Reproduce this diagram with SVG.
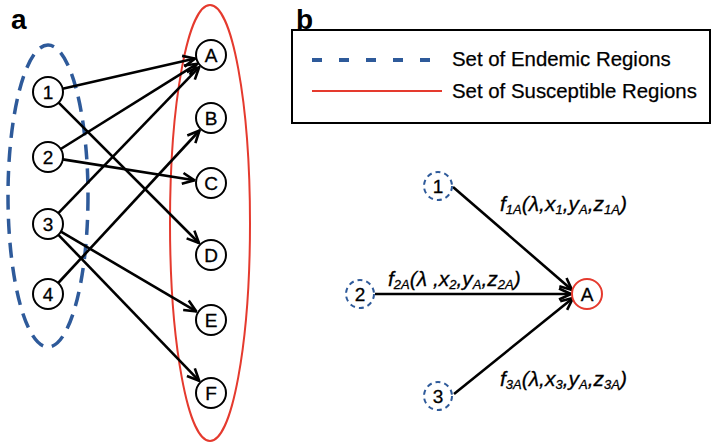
<svg xmlns="http://www.w3.org/2000/svg" width="712" height="444" viewBox="0 0 712 444">
<defs>
<marker id="arr" viewBox="0 0 14 14" refX="13" refY="7" markerWidth="14" markerHeight="14" markerUnits="userSpaceOnUse" orient="auto">
<path d="M1,1.5 L13,7 L1,12.5" fill="none" stroke="#000" stroke-width="2.6" stroke-linejoin="miter"/>
</marker>
<style>
.node{fill:#fff;stroke:#000;stroke-width:2}
.lbl{font-family:"Liberation Sans",Arial,sans-serif;font-size:19px;text-anchor:middle;fill:#000;stroke:#000;stroke-width:0.3}
.edge{stroke:#000;stroke-width:2.6;fill:none;marker-end:url(#arr)}
.bnode{fill:#fff;stroke:#2e5a9a;stroke-width:2;stroke-dasharray:5 4}
.fx{font-family:"Liberation Sans",Arial,sans-serif;font-style:italic;font-size:21px;fill:#000;stroke:#000;stroke-width:0.3}
.sub{font-size:13px}
.leg{font-family:"Liberation Sans",Arial,sans-serif;font-size:20.4px;fill:#000;stroke:#000;stroke-width:0.25}
.panel{font-family:"Liberation Sans",Arial,sans-serif;font-weight:bold;font-size:28px;fill:#000}
</style>
</defs>
<rect width="712" height="444" fill="#fff"/>
<text class="panel" x="11" y="29">a</text>
<text class="panel" x="296" y="29">b</text>
<g id="sets">
<ellipse cx="48" cy="196" rx="40" ry="151" fill="none" stroke="#2e5a9a" stroke-width="3.5" stroke-dasharray="15 9"/>
<ellipse cx="210" cy="223" rx="40" ry="218" fill="none" stroke="#e53a2e" stroke-width="2"/>
</g>
<g id="legend">
<rect x="292" y="30" width="418" height="93" fill="#fff" stroke="#000" stroke-width="2"/>
<line x1="312" y1="60" x2="440" y2="60" stroke="#2e5a9a" stroke-width="4" stroke-dasharray="10 17"/>
<line x1="312" y1="91" x2="442" y2="91" stroke="#e53a2e" stroke-width="2"/>
<text class="leg" x="452" y="66">Set of Endemic Regions</text>
<text class="leg" x="452" y="98">Set of Susceptible Regions</text>
</g>
<g id="connectors">
<line class="edge" x1="62.6" y1="88.7" x2="195" y2="58.6"/>
<line class="edge" x1="58.6" y1="102.6" x2="199" y2="243"/>
<line class="edge" x1="60.7" y1="149" x2="197" y2="63.8"/>
<line class="edge" x1="62.8" y1="159.4" x2="194.5" y2="180.3"/>
<line class="edge" x1="58.4" y1="213.2" x2="199.2" y2="67.2"/>
<line class="edge" x1="60.9" y1="231.6" x2="196.3" y2="311.4"/>
<line class="edge" x1="58.4" y1="234.8" x2="199.2" y2="380.8"/>
<line class="edge" x1="58.2" y1="283" x2="199.5" y2="130.5"/>
<line class="edge" x1="453" y1="187" x2="572" y2="290"/>
<line class="edge" x1="375" y1="294" x2="571" y2="294"/>
<line class="edge" x1="454" y1="394" x2="573" y2="298"/>
</g>
<g id="n1"><circle class="node" cx="48" cy="92" r="15"/><text class="lbl" x="48" y="99">1</text></g>
<g id="n2"><circle class="node" cx="48" cy="157" r="15"/><text class="lbl" x="48" y="164">2</text></g>
<g id="n3"><circle class="node" cx="48" cy="224" r="15"/><text class="lbl" x="48" y="231">3</text></g>
<g id="n4"><circle class="node" cx="48" cy="294" r="15"/><text class="lbl" x="48" y="301">4</text></g>
<g id="nA"><circle class="node" cx="211" cy="55" r="15"/><text class="lbl" x="211" y="62">A</text></g>
<g id="nB"><circle class="node" cx="211" cy="118" r="15"/><text class="lbl" x="211" y="125">B</text></g>
<g id="nC"><circle class="node" cx="211" cy="183" r="15"/><text class="lbl" x="211" y="190">C</text></g>
<g id="nD"><circle class="node" cx="211" cy="255" r="15"/><text class="lbl" x="211" y="262">D</text></g>
<g id="nE"><circle class="node" cx="211" cy="320" r="15"/><text class="lbl" x="211" y="327">E</text></g>
<g id="nF"><circle class="node" cx="211" cy="393" r="15"/><text class="lbl" x="211" y="400">F</text></g>
<g id="b1"><circle class="bnode" cx="438" cy="186" r="14"/><text class="lbl" x="438" y="193">1</text></g>
<g id="b2"><circle class="bnode" cx="360" cy="294" r="14"/><text class="lbl" x="360" y="301">2</text></g>
<g id="b3"><circle class="bnode" cx="438" cy="396" r="14"/><text class="lbl" x="438" y="403">3</text></g>
<g id="bA"><circle cx="587" cy="294" r="15" fill="#fff" stroke="#e53a2e" stroke-width="2"/><text class="lbl" x="587" y="301">A</text></g>
<g id="labels">
<text class="fx" x="500" y="211">f<tspan class="sub" dy="3">1A</tspan><tspan dy="-3">(λ,x</tspan><tspan class="sub" dy="3">1</tspan><tspan dy="-3">,y</tspan><tspan class="sub" dy="3">A</tspan><tspan dy="-3">,z</tspan><tspan class="sub" dy="3">1A</tspan><tspan dy="-3">)</tspan></text>
<text class="fx" x="388" y="286">f<tspan class="sub" dy="3">2A</tspan><tspan dy="-3">(λ ,x</tspan><tspan class="sub" dy="3">2</tspan><tspan dy="-3">,y</tspan><tspan class="sub" dy="3">A</tspan><tspan dy="-3">,z</tspan><tspan class="sub" dy="3">2A</tspan><tspan dy="-3">)</tspan></text>
<text class="fx" x="500" y="386">f<tspan class="sub" dy="3">3A</tspan><tspan dy="-3">(λ,x</tspan><tspan class="sub" dy="3">3</tspan><tspan dy="-3">,y</tspan><tspan class="sub" dy="3">A</tspan><tspan dy="-3">,z</tspan><tspan class="sub" dy="3">3A</tspan><tspan dy="-3">)</tspan></text>
</g>
</svg>
